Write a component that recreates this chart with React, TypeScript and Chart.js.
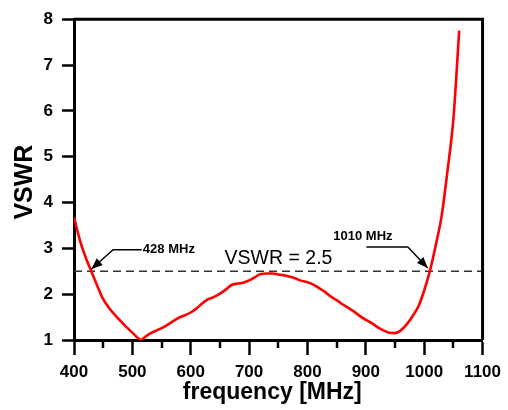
import React, { useEffect, useRef } from "react";
import { Chart, registerables } from "chart.js";

Chart.register(...registerables);

// ---- Data ----
const frequencies = [
  400, 410, 420, 430, 440, 450, 460, 470, 480, 490, 500, 510, 515, 520, 530, 540,
  550, 560, 570, 580, 590, 600, 610, 620, 630, 640, 650, 660, 670, 680, 690, 700,
  710, 720, 730, 740, 750, 760, 770, 780, 790, 800, 810, 820, 830, 840, 850, 860,
  870, 880, 890, 900, 910, 920, 930, 940, 950, 960, 970, 980, 990, 1000, 1010,
  1020, 1030, 1040, 1050, 1060,
];
const vswrValues = [
  3.68, 3.18, 2.8, 2.49, 2.18, 1.89, 1.7, 1.55, 1.41, 1.28, 1.16, 1.04, 1.0, 1.05, 1.14, 1.2,
  1.26, 1.33, 1.41, 1.49, 1.54, 1.6, 1.69, 1.8, 1.89, 1.94, 2.01, 2.1, 2.2, 2.23, 2.25, 2.3,
  2.37, 2.44, 2.45, 2.45, 2.43, 2.41, 2.38, 2.34, 2.29, 2.26, 2.21, 2.13, 2.05, 1.95, 1.87, 1.78,
  1.7, 1.62, 1.52, 1.44, 1.37, 1.28, 1.21, 1.16, 1.15, 1.21, 1.34, 1.52, 1.73, 2.08, 2.52,
  3.08, 3.72, 4.7, 5.82, 7.75,
];
const xMin = 400;
const xMax = 1100;
const xStep = 100;
const xMinorTicks = [450, 550, 650, 750, 850, 950, 1050];
const yMin = 1;
const yMax = 8;
const yStep = 1;
const thresholdValue = 2.5;
const thresholdLabel = "VSWR = 2.5";
const thresholdLabelAt = [658, 2.78];
const xTitle = "frequency [MHz]";
const yTitle = "VSWR";
const labelLow = "428 MHz";
const labelLowAt = [518, 2.97];
const arrowLow = [
  [516, 2.97],
  [467, 2.97],
  [430, 2.55],
];
const labelHigh = "1010 MHz";
const labelHighAt = [895, 3.27];
const arrowHigh = [
  [901, 3.03],
  [972, 3.03],
  [1006, 2.57],
];

const FONT = "'Liberation Sans', Arial, Helvetica, sans-serif";

const decorPlugin = {
  id: "decor",
  afterDraw(chart: any) {
    const { ctx, chartArea } = chart;
    const xs = chart.scales.x;
    const ys = chart.scales.y;
    const { left, right, top, bottom } = chartArea;
    ctx.save();
    // Frame
    ctx.strokeStyle = "#000";
    ctx.lineWidth = 3;
    ctx.beginPath();
    ctx.moveTo(left, top);
    ctx.lineTo(right, top);
    ctx.lineTo(right, bottom);
    ctx.stroke();
    // Minor ticks
    ctx.lineWidth = 2.5;
    xMinorTicks.forEach((v) => {
      const px = Math.round(xs.getPixelForValue(v));
      ctx.beginPath();
      ctx.moveTo(px, bottom);
      ctx.lineTo(px, bottom + 8);
      ctx.stroke();
    });
    // Threshold label
    ctx.fillStyle = "#000";
    ctx.font = `19.5px ${FONT}`;
    ctx.textAlign = "left";
    ctx.textBaseline = "middle";
    ctx.fillText(
      thresholdLabel,
      xs.getPixelForValue(thresholdLabelAt[0]),
      ys.getPixelForValue(thresholdLabelAt[1])
    );
    // Annotations
    const drawArrow = (pts: number[][]) => {
      const p = pts.map(([f, v]) => [xs.getPixelForValue(f), ys.getPixelForValue(v)]);
      ctx.lineWidth = 1.4;
      ctx.strokeStyle = "#000";
      ctx.beginPath();
      ctx.moveTo(p[0][0], p[0][1]);
      for (let i = 1; i < p.length; i++) ctx.lineTo(p[i][0], p[i][1]);
      ctx.stroke();
      const a = p[p.length - 2];
      const b = p[p.length - 1];
      const ang = Math.atan2(b[1] - a[1], b[0] - a[0]);
      const len = 11;
      const hw = 4.5;
      ctx.beginPath();
      ctx.moveTo(b[0], b[1]);
      ctx.lineTo(
        b[0] - len * Math.cos(ang) + hw * Math.sin(ang),
        b[1] - len * Math.sin(ang) - hw * Math.cos(ang)
      );
      ctx.lineTo(
        b[0] - len * Math.cos(ang) - hw * Math.sin(ang),
        b[1] - len * Math.sin(ang) + hw * Math.cos(ang)
      );
      ctx.closePath();
      ctx.fill();
    };
    drawArrow(arrowLow);
    drawArrow(arrowHigh);
    ctx.font = `bold 13px ${FONT}`;
    ctx.textAlign = "left";
    ctx.fillText(labelLow, xs.getPixelForValue(labelLowAt[0]), ys.getPixelForValue(labelLowAt[1]));
    ctx.textAlign = "center";
    ctx.fillText(labelHigh, xs.getPixelForValue(labelHighAt[0]), ys.getPixelForValue(labelHighAt[1]));
    // Axis titles
    ctx.font = `bold 23px ${FONT}`;
    ctx.textAlign = "center";
    ctx.textBaseline = "alphabetic";
    ctx.fillText(xTitle, (left + right) / 2 - 6, bottom + 59);
    ctx.save();
    ctx.translate(left - 49, (top + bottom) / 2 + 2.5);
    ctx.rotate(-Math.PI / 2);
    ctx.font = `bold 25px ${FONT}`;
    ctx.textBaseline = "middle";
    ctx.fillText(yTitle, 0, 0);
    ctx.restore();
    ctx.restore();
  },
};

export default function App() {
  const canvasRef = useRef<HTMLCanvasElement | null>(null);

  useEffect(() => {
    const canvas = canvasRef.current;
    if (!canvas) return;
    const curve = frequencies.map((f, i) => ({ x: f, y: vswrValues[i] }));
    const threshold = [
      { x: xMin, y: thresholdValue },
      { x: xMax, y: thresholdValue },
    ];
    const tickFont = { family: FONT, size: 17, weight: "bold" as const };
    const chart = new Chart(canvas, {
      type: "line",
      data: {
        datasets: [
          {
            data: curve,
            borderColor: "#ff0000",
            borderWidth: 2.6,
            pointRadius: 0,
            cubicInterpolationMode: "monotone",
            fill: false,
          },
          {
            data: threshold,
            borderColor: "#333333",
            borderWidth: 1.5,
            borderDash: [8, 5],
            pointRadius: 0,
            fill: false,
          },
        ],
      },
      options: {
        animation: false,
        responsive: false,
        maintainAspectRatio: false,
        layout: { padding: { top: 13, right: 25, left: 0, bottom: 0 } },
        plugins: { legend: { display: false }, tooltip: { enabled: false } },
        scales: {
          x: {
            type: "linear",
            min: xMin,
            max: xMax,
            ticks: {
              stepSize: xStep,
              font: tickFont,
              color: "#000",
              padding: 7,
              maxRotation: 0,
              callback: (v: any) => String(v),
            },
            grid: {
              drawOnChartArea: false,
              drawTicks: true,
              tickLength: 15,
              tickWidth: 2.5,
              tickColor: "#000",
            },
            border: { display: true, color: "#000", width: 3 },
            afterFit: (s: any) => {
              s.height = 70;
            },
          },
          y: {
            type: "linear",
            min: yMin,
            max: yMax,
            ticks: {
              stepSize: yStep,
              font: tickFont,
              color: "#000",
              padding: 9,
              callback: (v: any) => String(v),
            },
            grid: {
              drawOnChartArea: false,
              drawTicks: true,
              tickLength: 12,
              tickWidth: 2.5,
              tickColor: "#000",
            },
            border: { display: true, color: "#000", width: 3 },
            afterFit: (s: any) => {
              s.width = 74;
            },
          },
        },
      },
      plugins: [decorPlugin],
    });
    return () => chart.destroy();
  }, []);

  return (
    <div style={{ position: "absolute", left: 0, top: 0, width: 508, height: 410, background: "#fff" }}>
      <canvas ref={canvasRef} width={508} height={410} />
    </div>
  );
}
